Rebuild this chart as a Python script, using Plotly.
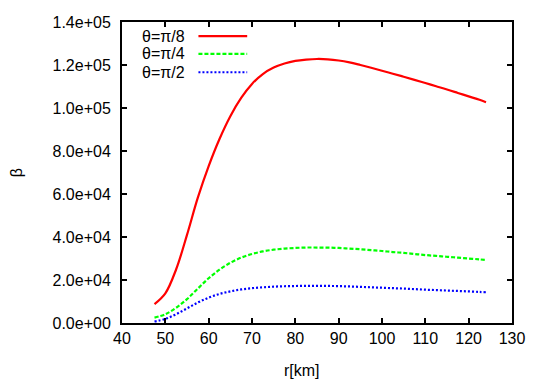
import plotly.graph_objects as go

r_km = [47.5, 50, 52.5, 55, 57.5, 60, 62.5, 65, 67.5, 70, 72.5, 75, 77.5, 80, 82.5, 85, 87.5, 90, 92.5, 95,
        97.5, 100, 102.5, 105, 107.5, 110, 112.5, 115, 117.5, 120, 122.5, 124]
beta_pi8 = [8800, 13800, 25000, 41000, 58300, 73000, 85600, 96200, 104700, 111200, 115800, 118800, 120700,
            121900, 122500, 122800, 122650, 122100, 121200, 120000, 118700, 117350, 115950, 114550, 113100,
            111600, 110100, 108600, 107000, 105400, 103800, 102700]
beta_pi4 = [2500, 4100, 7100, 11100, 16000, 20800, 24800, 28000, 30400, 32100, 33300, 34100, 34600, 34900,
            35100, 35100, 35050, 34900, 34600, 34300, 33900, 33500, 33000, 32600, 32100, 31600, 31200, 30800,
            30400, 30000, 29600, 29300]
beta_pi2 = [700, 1900, 4100, 6800, 9500, 11800, 13500, 14700, 15600, 16200, 16600, 16900, 17100, 17200,
            17300, 17300, 17250, 17150, 17000, 16800, 16600, 16400, 16200, 16000, 15750, 15500, 15300, 15100,
            14900, 14700, 14450, 14300]

series_names = ["θ=π/8", "θ=π/4", "θ=π/2"]
series_colors = ["#ff0000", "#00ff00", "#0000ff"]
series_dash = ["solid", "4px,2px", "2px,2px"]

x_ticks = [40, 50, 60, 70, 80, 90, 100, 110, 120, 130]
y_ticks = [0, 20000, 40000, 60000, 80000, 100000, 120000, 140000]
y_tick_text = ["0.0e+00", "2.0e+04", "4.0e+04", "6.0e+04", "8.0e+04", "1.0e+05", "1.2e+05", "1.4e+05"]

FONT = "Liberation Sans, Arial, sans-serif"
FS = 16

fig = go.Figure()
for ys, name, col, dash in zip([beta_pi8, beta_pi4, beta_pi2], series_names, series_colors, series_dash):
    fig.add_trace(go.Scatter(x=r_km, y=ys, mode="lines", name=name,
                             line=dict(color=col, width=2.2, dash=dash, shape="spline", smoothing=1),
                             showlegend=False))

# gnuplot-style key: text right-aligned, sample line to its right
key_y = [0.953, 0.894, 0.833]
for name, col, dash, ky in zip(series_names, series_colors, series_dash, key_y):
    fig.add_annotation(x=0.167, y=ky, xref="paper", yref="paper", text=name, showarrow=False,
                       xanchor="right", yanchor="middle", font=dict(family=FONT, size=FS, color="black"))
    fig.add_shape(type="line", xref="paper", yref="paper", x0=0.196, x1=0.321, y0=ky, y1=ky,
                  line=dict(color=col, width=2.2, dash=dash))

fig.add_annotation(x=0.462, y=-0.158, xref="paper", yref="paper", text="r[km]", showarrow=False,
                   xanchor="center", yanchor="middle", font=dict(family=FONT, size=FS, color="black"))
fig.add_annotation(x=-0.27, y=0.5, xref="paper", yref="paper", text="β", showarrow=False,
                   textangle=-90, xanchor="center", yanchor="middle",
                   font=dict(family=FONT, size=FS, color="black"))

axis_common = dict(showline=True, linecolor="black", linewidth=2, mirror="ticks", ticks="inside",
                   ticklen=5, tickwidth=1.5, tickcolor="black", showgrid=False, zeroline=False,
                   tickfont=dict(family=FONT, size=FS, color="black"))

fig.update_xaxes(range=[40, 130], tickvals=x_ticks, ticktext=[str(v) for v in x_ticks], **axis_common)
fig.update_yaxes(range=[0, 140000], tickvals=y_ticks, ticktext=y_tick_text, ticklabelstandoff=6,
                 **axis_common)

fig.update_layout(width=537, height=374, margin=dict(l=113.5, r=33.3, t=14, b=58.7, autoexpand=False),
                  plot_bgcolor="white", paper_bgcolor="white", font=dict(family=FONT))

fig.write_html("out.html")
